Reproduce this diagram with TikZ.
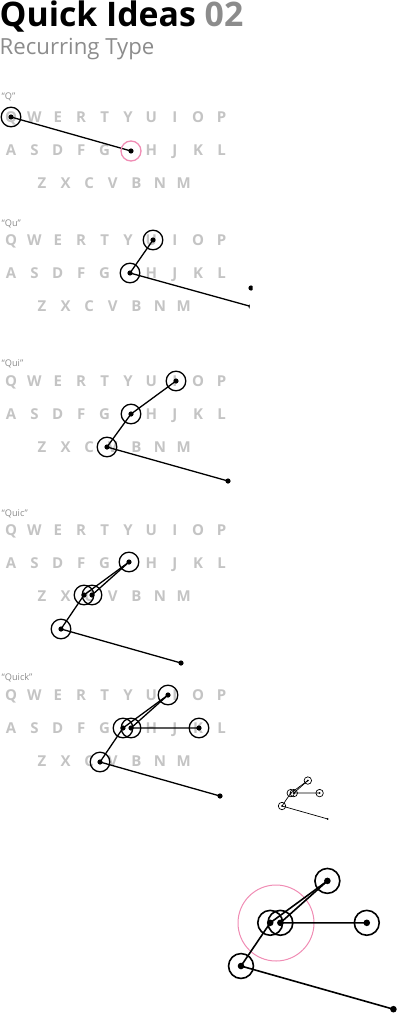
\documentclass[tikz,border=0pt]{standalone}
\usepackage{fontspec}
\setmainfont{Open Sans}
\definecolor{keygray}{HTML}{C4C4C4}
\definecolor{titlegray}{HTML}{8C8C8C}
\definecolor{hitpink}{HTML}{F08CB4}
\tikzset{
  keyl/.style={font=\bfseries\fontsize{7.5}{7.5}\selectfont, text=keygray, inner sep=0pt, text height=5.4pt, text depth=0pt},
  tagl/.style={font=\fontsize{4.6}{4.6}\selectfont, text=titlegray, inner sep=0pt, anchor=base west},
}
\newcommand{\ringdot}[1]{\draw (#1) circle (9.8); \fill (#1) circle (2.6);}
% full "Quick" trail: prefix, origin, scale, line width
\newcommand{\quickfig}[4]{%
  \begin{scope}[shift={#2}, scale=#3, line width=#4]
    \coordinate (#1u) at (68,-67);
    \coordinate (#1g) at (23,-34);
    \coordinate (#1h) at (31,-34);
    \coordinate (#1k) at (99,-34);
    \coordinate (#1c) at (0,0);
    \coordinate (#1e) at (120,34);
    \draw (#1u) -- (#1g) -- (#1c) -- (#1e);
    \draw (#1u) -- (#1h) -- (#1k);
    \ringdot{#1u} \ringdot{#1g} \ringdot{#1h} \ringdot{#1k} \ringdot{#1c}
    \fill (#1e) circle (2.6);
  \end{scope}}

\begin{document}
\begin{tikzpicture}[x=0.5pt, y=-0.5pt, line width=0.65pt]
  \useasboundingbox (0,0) rectangle (400,1022);

  % title
  \node[anchor=base west, inner sep=0pt, font=\bfseries\fontsize{16.9}{16.9}\selectfont] (title) at (-1,27)
    {Quick Ideas \textcolor{titlegray}{02}};
  \node[anchor=base west, inner sep=0pt, font=\fontsize{11.1}{11.1}\selectfont, text=titlegray] (subtitle) at (-1,55)
    {Recurring Type};

  % keyboards
  \foreach \b/\dy/\tag/\ty in {1/0/Q/100, 2/123/Qu/226, 3/264/Qui/366, 4/413/Quic/516, 5/578/Quick/680} {
    \node[tagl] (tag\b) at (1,\ty) {“\tag”};
    \foreach \l [count=\i from 0] in {Q,W,E,R,T,Y,U,I,O,P}
      \node[keyl] (k\b-\l) at (11+23.4*\i,117+\dy) {\l};
    \foreach \l/\c in {A/0,S/1,D/2,F/3,G/4,H/6,J/7,K/8,L/9}
      \node[keyl] (k\b-\l) at (11+23.4*\c,150+\dy) {\l};
    \foreach \l [count=\i from 0] in {Z,X,C,V,B,N,M}
      \node[keyl] (k\b-\l) at (42+23.6*\i,183+\dy) {\l};
  }

  % "Q"
  \coordinate (q1) at (11,117);
  \coordinate (e1) at (131,151);
  \draw (q1) -- (e1);
  \ringdot{q1}
  \draw[hitpink] (e1) circle (10);
  \fill (e1) circle (2.6);

  % "Qu"
  \coordinate (u2) at (153,240);
  \coordinate (g2) at (130,273);
  \coordinate (e2) at (251,306.5);
  \coordinate (x2) at (251,288);
  \ringdot{u2} \ringdot{g2}
  \draw (u2) -- (g2);
  \begin{scope}
    \clip (120,260) rectangle (249.5,320);
    \draw (g2) -- (e2);
    \fill (e2) circle (2.6);
  \end{scope}
  \begin{scope}
    \clip (240,280) rectangle (252.7,296);
    \fill (x2) circle (2.6);
  \end{scope}

  % "Qui"
  \coordinate (i3) at (176,381);
  \coordinate (g3) at (131,414);
  \coordinate (c3) at (107,447);
  \coordinate (e3) at (228,481);
  \draw (i3) -- (g3) -- (c3) -- (e3);
  \ringdot{i3} \ringdot{g3} \ringdot{c3}
  \fill (e3) circle (2.6);

  % "Quic"
  \begin{scope}[shift={(61,629)}]
    \coordinate (u4) at (68,-67);
    \coordinate (g4) at (23,-34);
    \coordinate (h4) at (31,-34);
    \coordinate (c4) at (0,0);
    \coordinate (e4) at (120,34);
    \draw (u4) -- (g4) -- (c4) -- (e4);
    \draw (u4) -- (h4);
    \ringdot{u4} \ringdot{g4} \ringdot{h4} \ringdot{c4}
    \fill (e4) circle (2.6);
  \end{scope}

  % "Quick"
  \quickfig{q5}{(100,762)}{1}{0.65pt}

  % small and large copies
  \quickfig{sm}{(282,806)}{0.38}{0.35pt}
  \draw[hitpink, line width=0.5pt] (276,923) circle (38);
  \quickfig{lg}{(241,966)}{1.27}{0.8pt}
\end{tikzpicture}
\end{document}
